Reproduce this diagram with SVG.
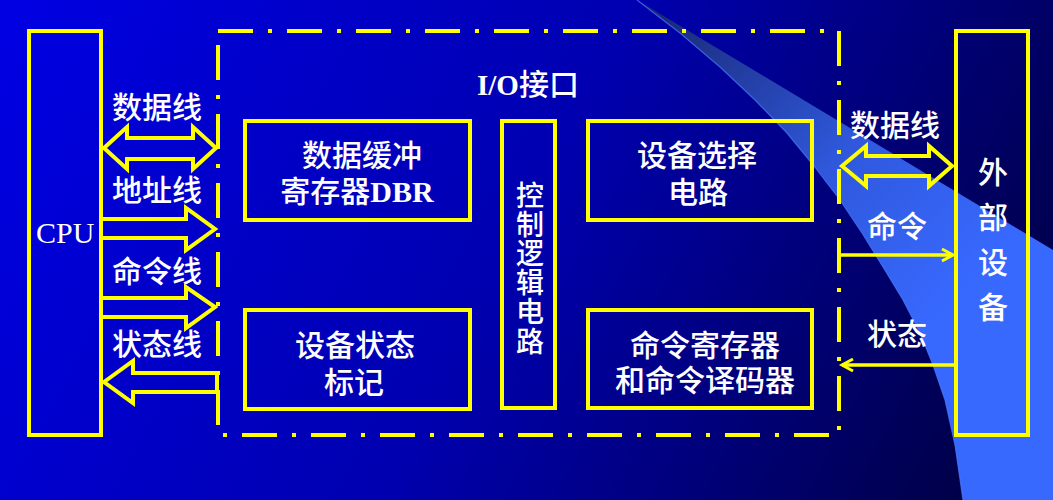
<svg xmlns="http://www.w3.org/2000/svg" width="1053" height="500" viewBox="0 0 1053 500">
<defs>
<linearGradient id="bg" gradientUnits="userSpaceOnUse" x1="0" y1="0" x2="1000" y2="520">
<stop offset="0" stop-color="#0000e4"/>
<stop offset="0.5" stop-color="#0000b0"/>
<stop offset="1" stop-color="#000040"/>
</linearGradient>
<linearGradient id="sw" gradientUnits="userSpaceOnUse" x1="660" y1="20" x2="960" y2="300">
<stop offset="0" stop-color="#1a2a78"/>
<stop offset="0.55" stop-color="#2f58dc"/>
<stop offset="1" stop-color="#3869ff"/>
</linearGradient>
<marker id="ah" markerUnits="userSpaceOnUse" markerWidth="16" markerHeight="16" refX="12" refY="8" orient="auto" viewBox="0 0 16 16">
<path d="M1,2 L12,8 L1,14" fill="none" stroke="#ffff00" stroke-width="3"/>
</marker>
<style>
.box{fill:none;stroke:#ffff00;stroke-width:4}
.dash{fill:none;stroke:#ffff00;stroke-width:4;stroke-dasharray:35 15 4 15}
.big{fill:none;stroke:#ffff00;stroke-width:4;stroke-linejoin:miter}
.thin{fill:none;stroke:#ffff00;stroke-width:3.5}
.cj{font-family:"Noto Sans CJK SC","Noto Sans CJK TC",sans-serif;font-size:30px;font-weight:500;fill:#ffffff}
.lt{font-family:"Liberation Serif","Noto Sans CJK SC",serif;fill:#ffffff}
</style>
</defs>
<rect x="0" y="0" width="1053" height="500" fill="url(#bg)"/>
<path d="M637,0 L1053,250 L1053,500 L963,500 L955,445 L945,400 L933,365 L920,333 L903,300 L883,267 L862,233 L840,200 L814,166 L787,133 L755,100 L720,67 L680,33 Z" fill="url(#sw)"/>
<path d="M963,500 L955,445 L945,400 L933,365 L920,333 L903,300 L883,267 L862,233 L840,200 L814,166 L787,133 L755,100 L720,67 L680,33 L637,0" fill="none" stroke="#4a7cff" stroke-width="1.2" opacity="0.7"/>

<g id="cpu">
<rect class="box" x="29" y="31" width="72" height="404"/>
<text class="lt" x="36" y="243" font-size="30">CPU</text>
</g>

<g id="io-interface">
<path class="dash" d="M218,31 H839 V435 H218 Z"/>
<text x="477" y="95"><tspan class="lt" font-size="29" font-weight="bold">I/O</tspan><tspan class="cj" font-size="29">接口</tspan></text>
</g>

<g id="dbr">
<rect class="box" x="245" y="121" width="225" height="99"/>
<text class="cj" x="362" y="166" text-anchor="middle">数据缓冲</text>
<text x="357" y="202" text-anchor="middle"><tspan class="cj">寄存器</tspan><tspan class="lt" font-size="30" font-weight="bold">DBR</tspan></text>
</g>

<g id="control-logic">
<rect class="box" x="502" y="121" width="53" height="287"/>
<text class="cj" font-size="28" text-anchor="middle" style="font-size:28px"><tspan x="530" y="206">控</tspan><tspan x="530" y="235">制</tspan><tspan x="530" y="264">逻</tspan><tspan x="530" y="293">辑</tspan><tspan x="530" y="322">电</tspan><tspan x="530" y="352">路</tspan></text>
</g>

<g id="device-select">
<rect class="box" x="588" y="121" width="224" height="99"/>
<text class="cj" x="697" y="166" text-anchor="middle">设备选择</text>
<text class="cj" x="698" y="203" text-anchor="middle">电路</text>
</g>

<g id="status-flag">
<rect class="box" x="245" y="310" width="225" height="99"/>
<text class="cj" x="355" y="356" text-anchor="middle">设备状态</text>
<text class="cj" x="354" y="393" text-anchor="middle">标记</text>
</g>

<g id="command-register">
<rect class="box" x="588" y="310" width="224" height="98"/>
<text class="cj" x="705" y="356" text-anchor="middle">命令寄存器</text>
<text class="cj" x="705" y="391" text-anchor="middle">和命令译码器</text>
</g>

<g id="external-device">
<rect class="box" x="956" y="31" width="72" height="404"/>
<text class="cj" text-anchor="middle"><tspan x="993" y="183">外</tspan><tspan x="993" y="228">部</tspan><tspan x="993" y="273">设</tspan><tspan x="993" y="318">备</tspan></text>
</g>

<g id="connectors">
<polygon class="big" points="104,148 127,127 127,138 193,138 193,127 216,148 193,169 193,159 127,159 127,169"/>
<polygon class="big" points="101,219 186,219 186,208 215,229 186,250 186,238 101,238"/>
<polygon class="big" points="101,298 186,298 186,287 215,307 186,328 186,317 101,317"/>
<polygon class="big" points="104,382 133,361 133,373 217,373 217,392 133,392 133,403"/>
<polygon class="big" points="842,166 866,146 866,156 929,156 929,146 952,166 929,186 929,176 866,176 866,186"/>
<line class="thin" x1="840" y1="255" x2="953" y2="255" marker-end="url(#ah)"/>
<line class="thin" x1="954" y1="365" x2="842" y2="365" marker-end="url(#ah)"/>
<g class="cj" text-anchor="middle">
<text x="157" y="118">数据线</text>
<text x="157" y="201">地址线</text>
<text x="157" y="282">命令线</text>
<text x="157" y="355">状态线</text>
<text x="895" y="136">数据线</text>
<text x="897" y="237">命令</text>
<text x="897" y="345">状态</text>
</g>
</g>
</svg>
